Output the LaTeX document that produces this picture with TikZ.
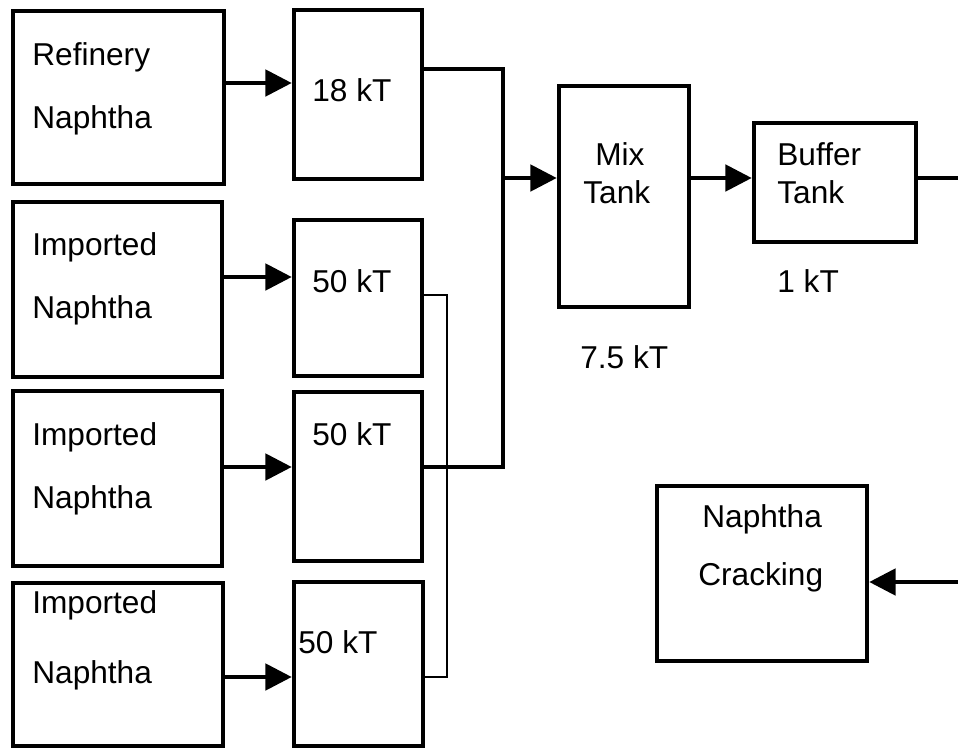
\documentclass[tikz,border=0pt]{standalone}
\usepackage{fontspec}
\setmainfont{Liberation Sans}
\usetikzlibrary{arrows.meta}

\begin{document}
\begin{tikzpicture}[x=0.02cm, y=-0.02cm,
  tank/.style={draw, line width=2.6pt, inner sep=0pt},
  lbl/.style={anchor=base west, inner sep=0pt, font=\fontsize{18}{20}\selectfont},
  flow/.style={line width=2.2pt, -{Triangle[length=15pt,width=15pt]}},
  pipe/.style={line width=2.2pt},
  thinpipe/.style={line width=1.6pt}]

  \useasboundingbox (0,0) rectangle (958,751);

  % Feed boxes
  \node[tank, minimum width=4.22cm, minimum height=3.46cm] (ref) at (118.5,97.5) {};
  \node[tank, minimum width=4.18cm, minimum height=3.50cm] (imp1) at (117.5,289.5) {};
  \node[tank, minimum width=4.18cm, minimum height=3.50cm] (imp2) at (117.5,478.5) {};
  \node[tank, minimum width=4.20cm, minimum height=3.26cm] (imp3) at (118,664.5) {};

  % Storage tanks
  \node[tank, minimum width=2.56cm, minimum height=3.38cm] (t18) at (358,94.5) {};
  \node[tank, minimum width=2.56cm, minimum height=3.12cm] (t50a) at (358,298) {};
  \node[tank, minimum width=2.56cm, minimum height=3.38cm] (t50b) at (358,476.5) {};
  \node[tank, minimum width=2.58cm, minimum height=3.28cm] (t50c) at (358.5,664) {};

  % Mix, buffer and cracker
  \node[tank, minimum width=2.60cm, minimum height=4.42cm] (mix) at (624,196.5) {};
  \node[tank, minimum width=3.24cm, minimum height=2.38cm] (buf) at (835,182.5) {};
  \node[tank, minimum width=4.20cm, minimum height=3.50cm] (crack) at (762,573.5) {};

  % Texts
  \node[lbl] (lref1) at (32,65) {Refinery};
  \node[lbl] (lref2) at (32,128) {Naphtha};
  \node[lbl] (limp1a) at (32,255) {Imported};
  \node[lbl] (limp1b) at (32,318) {Naphtha};
  \node[lbl] (limp2a) at (32,445) {Imported};
  \node[lbl] (limp2b) at (32,508) {Naphtha};
  \node[lbl] (limp3a) at (32,613) {Imported};
  \node[lbl] (limp3b) at (32,683) {Naphtha};
  \node[lbl] (l18) at (312,101) {18 kT};
  \node[lbl] (l50a) at (312,292) {50 kT};
  \node[lbl] (l50b) at (312,445) {50 kT};
  \node[lbl] (l50c) at (298,653) {50 kT};
  \node[lbl] (lmix1) at (595,165) {Mix};
  \node[lbl] (lmix2) at (583,203) {Tank};
  \node[lbl] (lbuf1) at (777,165) {Buffer};
  \node[lbl] (lbuf2) at (777,203) {Tank};
  \node[lbl] (lbufkt) at (777,292) {1 kT};
  \node[lbl] (lmixkt) at (580,368) {7.5 kT};
  \node[lbl] (lcr1) at (702,527) {Naphtha};
  \node[lbl] (lcr2) at (698,585) {Cracking};

  % Heights of the lines
  \coordinate (h1) at (0,83);
  \coordinate (h2) at (0,277);
  \coordinate (h3) at (0,467);
  \coordinate (h4) at (0,677);
  \coordinate (jt) at (503,69);
  \coordinate (jb) at (503,467);
  \coordinate (jm) at (503,178);
  \coordinate (ja) at (447,295);
  \coordinate (jc) at (447,677);
  \coordinate (out) at (958,178);
  \coordinate (in) at (958,582);

  % Feeds into tanks
  \draw[flow] (ref.east |- h1) -- (t18.west |- h1);
  \draw[flow] (imp1.east |- h2) -- (t50a.west |- h2);
  \draw[flow] (imp2.east |- h3) -- (t50b.west |- h3);
  \draw[flow] (imp3.east |- h4) -- (t50c.west |- h4);

  % Header to the mix tank
  \draw[pipe] (t18.east |- jt) -- (jt) -- (jb) -- (t50b.east |- jb);
  \draw[flow] (jm) -- (mix.west |- jm);
  \draw[thinpipe] (t50a.east |- ja) -- (ja) -- (jc) -- (t50c.east |- jc);

  % Mix to buffer, buffer out, cracker in
  \draw[flow] (mix.east |- jm) -- (buf.west |- jm);
  \draw[pipe] (buf.east |- out) -- (out);
  \draw[flow] (in) -- (crack.east |- in);

\end{tikzpicture}
\end{document}
